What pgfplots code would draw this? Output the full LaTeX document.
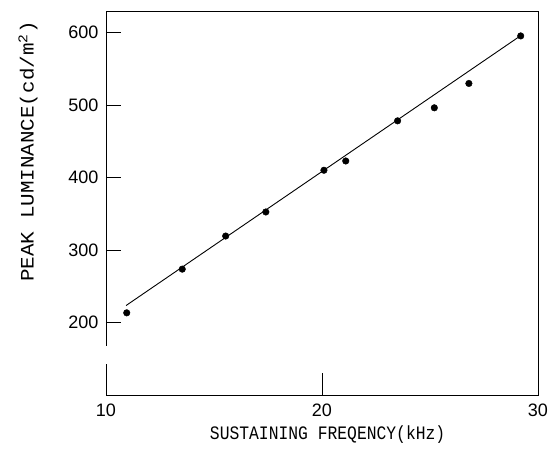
\documentclass[border=0pt]{standalone}
\usepackage{pgfplots}
\pgfplotsset{compat=1.18}
\usepackage{fontspec}
\setmainfont{Liberation Sans}
\newfontfamily\labfont{Liberation Mono}
\begin{document}
\begin{tikzpicture}[x=1pt,y=1pt]
\useasboundingbox (-106,-62) rectangle (452,395);
\begin{axis}[
  scale only axis, width=432pt, height=384pt,
  xmin=10, xmax=30, ymin=100, ymax=630,
  xtick={10,20,30}, ytick={200,300,400,500,600},
  xtick pos=bottom, ytick pos=left,
  tick align=inside, major tick length=15pt,
  xtick style={/pgfplots/major tick length=22pt},
  axis line style={line width=0.9pt},
  every tick/.style={black, line width=0.8pt},
  tick label style={font=\fontsize{18}{18}\selectfont},
  /pgf/number format/assume math mode=true,
  xticklabel style={yshift=-5pt},
  yticklabel style={xshift=-4pt},
  xlabel={\labfont\fontsize{19}{19}\selectfont\scalebox{0.86}[1]{SUSTAINING FREQENCY(kHz)}},
  ylabel={\labfont\fontsize{19}{19}\selectfont\scalebox{1.1}[1]{PEAK LUMINANCE(cd/m\textsuperscript{2})}},
  every axis x label/.style={at={(axis description cs:0.513,0)}, anchor=center, yshift=-40pt},
  every axis y label/.style={at={(axis description cs:0,0.634)}, xshift=-78pt, rotate=90, anchor=center},
]
\addplot[black, line width=0.9pt, no markers] coordinates {(10.93,223.5) (29.2,596)};
\addplot[only marks, mark=*, mark size=3.3pt, black] coordinates {
(10.96,213.4) (13.53,273.7) (15.54,319.4) (17.4,352.6) (20.09,410.2)
(21.1,423) (23.5,478.4) (25.2,496.4) (26.8,530) (29.2,595.6)
};
\draw[white, line width=3pt] (axis cs:10,143) -- (axis cs:10,168);
\end{axis}
\end{tikzpicture}
\end{document}
